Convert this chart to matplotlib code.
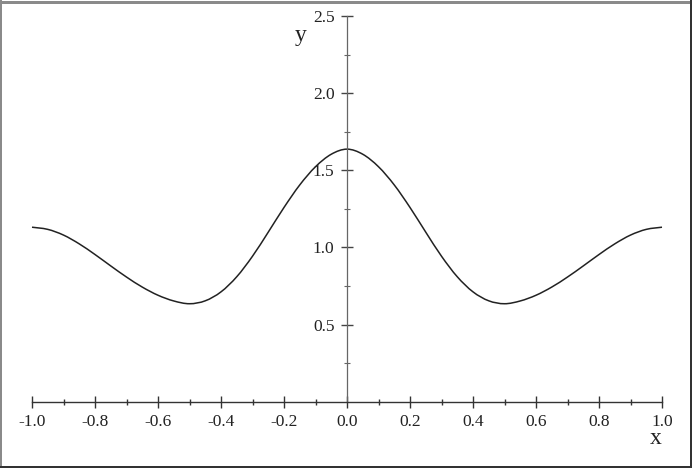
import matplotlib
matplotlib.use("Agg")
import matplotlib.pyplot as plt
from matplotlib.lines import Line2D
from matplotlib.path import Path
from matplotlib.patches import PathPatch
from matplotlib.ticker import FixedLocator

# Values (symmetric about x = 0)
x_vals = [-1.00, -0.95, -0.90, -0.85, -0.80, -0.75, -0.70, -0.65, -0.60, -0.55,
          -0.50, -0.45, -0.40, -0.35, -0.30, -0.25, -0.20, -0.15, -0.10, -0.05,
          0.00, 0.05, 0.10, 0.15, 0.20, 0.25, 0.30, 0.35, 0.40, 0.45,
          0.50, 0.55, 0.60, 0.65, 0.70, 0.75, 0.80, 0.85, 0.90, 0.95, 1.00]
y_vals = [1.131, 1.117, 1.080, 1.023, 0.954, 0.880, 0.808, 0.743, 0.690, 0.653,
          0.635, 0.654, 0.712, 0.810, 0.943, 1.099, 1.259, 1.405, 1.523, 1.604,
          1.637, 1.604, 1.523, 1.405, 1.259, 1.099, 0.943, 0.810, 0.712, 0.654,
          0.635, 0.653, 0.690, 0.743, 0.808, 0.880, 0.954, 1.023, 1.080, 1.117, 1.131]

x_major = [-1.0, -0.8, -0.6, -0.4, -0.2, 0.0, 0.2, 0.4, 0.6, 0.8, 1.0]
x_minor = [-0.9, -0.7, -0.5, -0.3, -0.1, 0.1, 0.3, 0.5, 0.7, 0.9]
x_labels = ["-1.0", "-0.8", "-0.6", "-0.4", "-0.2", "0.0", "0.2", "0.4", "0.6", "0.8", "1.0"]
y_major = [0.5, 1.0, 1.5, 2.0, 2.5]
y_minor = [0.25, 0.75, 1.25, 1.75, 2.25]
y_labels = ["0.5", "1.0", "1.5", "2.0", "2.5"]

W, H = 692, 468
fig = plt.figure(figsize=(W / 100, H / 100), dpi=100)
fig.patch.set_facecolor("white")

left_px, right_px = 32, 662
top_px, bottom_px = 16, 401.7
ax = fig.add_axes([left_px / W, 1 - bottom_px / H,
                   (right_px - left_px) / W, (bottom_px - top_px) / H])
ax.set_facecolor("none")

# smooth curve through the read points (Catmull-Rom as cubic Bezier segments)
pts = list(zip(x_vals, y_vals))
n = len(pts)
verts = [pts[0]]
codes = [Path.MOVETO]
for i in range(n - 1):
    p0 = pts[max(i - 1, 0)]
    p1 = pts[i]
    p2 = pts[i + 1]
    p3 = pts[min(i + 2, n - 1)]
    c1 = (p1[0] + (p2[0] - p0[0]) / 6.0, p1[1] + (p2[1] - p0[1]) / 6.0)
    c2 = (p2[0] - (p3[0] - p1[0]) / 6.0, p2[1] - (p3[1] - p1[1]) / 6.0)
    verts += [c1, c2, p2]
    codes += [Path.CURVE4, Path.CURVE4, Path.CURVE4]
ax.add_patch(PathPatch(Path(verts, codes), facecolor="none",
                       edgecolor="#222222", lw=1.1, clip_on=False))

ax.set_xlim(-1.0, 1.0)
ax.set_ylim(0.0, 2.5)

ax.spines["top"].set_visible(False)
ax.spines["right"].set_visible(False)
ax.spines["left"].set_position(("data", 0))
ax.spines["bottom"].set_position(("data", 0))
ax.spines["left"].set_color("#666666")
ax.spines["left"].set_linewidth(0.9)
ax.spines["bottom"].set_color("#333333")
ax.spines["bottom"].set_linewidth(1.0)

serif = ["Liberation Serif", "DejaVu Serif"]

ax.xaxis.set_major_locator(FixedLocator(x_major))
ax.xaxis.set_minor_locator(FixedLocator(x_minor))
ax.set_xticklabels(x_labels, family=serif, fontsize=12.5, color="#222222")
ax.yaxis.set_major_locator(FixedLocator(y_major))
ax.yaxis.set_minor_locator(FixedLocator(y_minor))
ax.set_yticklabels(y_labels, family=serif, fontsize=12.5, color="#222222")

ax.tick_params(axis="x", which="major", direction="inout", length=8, width=1.0,
               color="#333333", pad=5)
ax.tick_params(axis="x", which="minor", direction="inout", length=4.5, width=1.0,
               color="#333333")
ax.tick_params(axis="y", which="major", direction="inout", length=8, width=1.0,
               color="#444444", pad=5)
ax.tick_params(axis="y", which="minor", direction="inout", length=4.5, width=0.8,
               color="#666666")

fig.text(301 / W, 1 - 36 / H, "y", family=serif, fontsize=17,
         ha="center", va="center", color="#222222")
fig.text(656 / W, 1 - 439 / H, "x", family=serif, fontsize=17,
         ha="center", va="center", color="#222222")

# image frame
def px_line(x0, y0, x1, y1, color, lw_px):
    fig.add_artist(Line2D([x0 / W, x1 / W], [1 - y0 / H, 1 - y1 / H],
                          transform=fig.transFigure, color=color,
                          lw=lw_px * 0.72, solid_capstyle="butt"))

px_line(0, 1.5, W, 1.5, "#8a8a8a", 3)
px_line(1, 0, 1, H, "#8a8a8a", 2)
px_line(W - 1, 0, W - 1, H, "#333333", 2)
px_line(0, H - 1, W, H - 1, "#333333", 2)

fig.savefig("out.png", dpi=100, facecolor="white")
